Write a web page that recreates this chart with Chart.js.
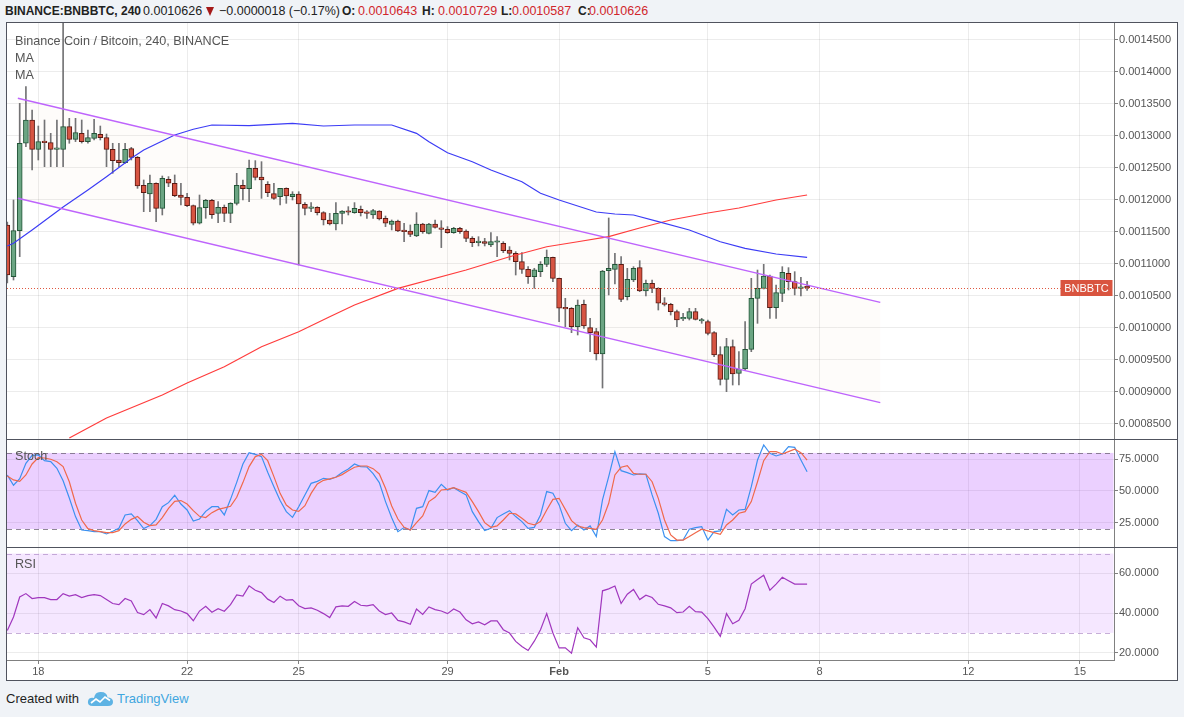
<!DOCTYPE html>
<html><head><meta charset="utf-8">
<script src="https://cdn.jsdelivr.net/npm/chart.js@4.4.1/dist/chart.umd.min.js"></script>
<style>
html,body{margin:0;padding:0;background:#f0f3f7;width:1184px;height:717px;overflow:hidden;font-family:"Liberation Sans",Arial,sans-serif;}
.abs{position:absolute;white-space:nowrap;}
.box{position:absolute;left:7px;width:1170px;background:#fff;}
.hd{position:absolute;top:4px;font-size:12.5px;color:#222;line-height:15px;white-space:nowrap;}
.b{font-weight:bold;font-size:12px;}
.r{color:#d0262c;}
.pl{position:absolute;left:15px;font-size:12.6px;color:#555;line-height:15px;white-space:nowrap;}
.sep{position:absolute;left:7px;width:1170px;height:1px;background:#50535e;z-index:6;}
</style></head><body>
<div class="hd b" style="left:5px">BINANCE:BNBBTC, 240</div>
<div class="hd" style="left:143px">0.0010626</div>
<div class="abs" style="left:206px;top:7px;width:0;height:0;border-left:4.5px solid transparent;border-right:4.5px solid transparent;border-top:9px solid #a51a1a;"></div>
<div class="hd" style="left:219px">−0.0000018 (−0.17%)</div>
<div class="hd b" style="left:342px">O:</div><div class="hd r" style="left:358px">0.0010643</div>
<div class="hd b" style="left:422px">H:</div><div class="hd r" style="left:438px">0.0010729</div>
<div class="hd b" style="left:501px">L:</div><div class="hd r" style="left:512px">0.0010587</div>
<div class="hd b" style="left:578px">C:</div><div class="hd r" style="left:589px">0.0010626</div>

<div class="box" style="top:23px;height:416px;"><canvas id="cMain"></canvas></div>
<div class="box" style="top:440px;height:107px;"><canvas id="cStoch"></canvas></div>
<div class="box" style="top:548px;height:132px;"><canvas id="cRsi"></canvas></div>
<div class="sep" style="top:439px"></div>
<div class="sep" style="top:547px"></div>
<div class="abs" style="left:6px;top:22px;width:1170px;height:657px;border:1px solid #50535e;z-index:7;pointer-events:none;"></div>

<div class="pl" style="top:34px">Binance Coin / Bitcoin, 240, BINANCE</div>
<div class="pl" style="top:51px">MA</div>
<div class="pl" style="top:68px">MA</div>
<div class="pl" style="top:449px;z-index:8">Stoch</div>
<div class="pl" style="top:557px;z-index:8">RSI</div>

<div class="abs" style="left:6px;top:691px;font-size:13px;color:#1e1e1e;line-height:16px;">Created with</div>
<svg class="abs" style="left:87px;top:690px" width="27" height="17" viewBox="0 0 27 17">
<path d="M6 16 Q0 16 1 11 Q2 7 7 8 Q8 1.5 14 2 Q20 2 20.5 7.5 Q26 7.5 26 12 Q26 16 21 16 Z" fill="#5eb3e4"/>
<path d="M4 13 L9 9 L13 12 L18 7 L23 10.5" stroke="#fff" stroke-width="1.7" fill="none"/>
</svg>
<div class="abs" style="left:117px;top:691px;font-size:13px;color:#3fa6df;line-height:16px;">TradingView</div>

<script>
// ---------- DATA ----------
const dayTickIdx = [5, 29, 47, 71, 89, 113, 131, 155, 173];
const dayTickLabels = ['18', '22', '25', '29', 'Feb', '5', '8', '12', '15'];
const priceTicks = [0.00085, 0.0009, 0.00095, 0.001, 0.00105, 0.0011, 0.00115, 0.0012, 0.00125, 0.0013, 0.00135, 0.0014, 0.00145];
const stochTicks = [25, 50, 75];
const rsiTicks = [20, 40, 60];
const stochBands = [20, 80];
const rsiBands = [30, 70];

const opens = [11609e-7,10802e-7,11521e-7,12886e-7,13250e-7,12792e-7,12922e-7,12896e-7,12792e-7,12792e-7,
13146e-7,12948e-7,13042e-7,12912e-7,12964e-7,13026e-7,12974e-7,12792e-7,12625e-7,12583e-7,
12802e-7,12667e-7,12229e-7,12094e-7,12261e-7,11870e-7,12323e-7,12261e-7,12078e-7,12042e-7,
11912e-7,11636e-7,11880e-7,11995e-7,11792e-7,11886e-7,11792e-7,11948e-7,12229e-7,12177e-7,
12495e-7,12360e-7,12245e-7,12099e-7,12052e-7,12182e-7,12052e-7,12094e-7,11933e-7,11870e-7,
11886e-7,11802e-7,11688e-7,11625e-7,11792e-7,11818e-7,11802e-7,11854e-7,11802e-7,11766e-7,
11828e-7,11714e-7,11620e-7,11672e-7,11521e-7,11516e-7,11438e-7,11625e-7,11479e-7,11625e-7,
11558e-7,11542e-7,11490e-7,11558e-7,11516e-7,11401e-7,11334e-7,11349e-7,11297e-7,11340e-7,
11323e-7,11219e-7,11167e-7,11037e-7,10917e-7,10802e-7,10881e-7,10995e-7,11104e-7,10776e-7,
10308e-7,10308e-7,10021e-7,10370e-7,10005e-7,9943e-7,9594e-7,10896e-7,10917e-7,10995e-7,
10490e-7,10750e-7,10943e-7,10578e-7,10698e-7,10620e-7,10386e-7,10370e-7,10255e-7,10141e-7,
10151e-7,10255e-7,10109e-7,10099e-7,9927e-7,9584e-7,9198e-7,9708e-7,9292e-7,9360e-7,
9667e-7,10464e-7,10620e-7,10813e-7,10318e-7,10542e-7,10854e-7,10724e-7,10620e-7,10643e-7];

const highs = [11656e-7,12000e-7,13510e-7,13771e-7,13406e-7,13156e-7,13250e-7,13042e-7,13250e-7,14760e-7,
13276e-7,13276e-7,13250e-7,13094e-7,13260e-7,13156e-7,13031e-7,12886e-7,12886e-7,12886e-7,
12823e-7,12680e-7,12313e-7,12391e-7,12270e-7,12375e-7,12365e-7,12391e-7,12261e-7,12104e-7,
11922e-7,12078e-7,12010e-7,12010e-7,11974e-7,11922e-7,11958e-7,12417e-7,12313e-7,12625e-7,
12615e-7,12599e-7,12287e-7,12261e-7,12182e-7,12190e-7,12130e-7,12130e-7,11959e-7,11959e-7,
11896e-7,11818e-7,11792e-7,11959e-7,11834e-7,11896e-7,11959e-7,11906e-7,11834e-7,11854e-7,
11834e-7,11750e-7,11688e-7,11688e-7,11636e-7,11610e-7,11802e-7,11636e-7,11636e-7,11688e-7,
11677e-7,11584e-7,11573e-7,11573e-7,11532e-7,11427e-7,11427e-7,11401e-7,11490e-7,11427e-7,
11349e-7,11271e-7,11193e-7,11177e-7,10959e-7,10933e-7,11037e-7,11219e-7,11110e-7,10780e-7,
10464e-7,10320e-7,10438e-7,10438e-7,10151e-7,9995e-7,10900e-7,11719e-7,11167e-7,11115e-7,
10932e-7,10958e-7,11052e-7,10750e-7,10750e-7,10630e-7,10474e-7,10386e-7,10281e-7,10229e-7,
10307e-7,10307e-7,10151e-7,10125e-7,9943e-7,9708e-7,9839e-7,9813e-7,9630e-7,10099e-7,
10776e-7,10906e-7,10995e-7,10828e-7,10672e-7,10958e-7,10943e-7,10880e-7,10792e-7,10729e-7];

const lows = [10703e-7,10750e-7,11115e-7,12833e-7,12469e-7,12625e-7,12521e-7,12521e-7,12521e-7,12521e-7,
12886e-7,12912e-7,12890e-7,12886e-7,12938e-7,12938e-7,12521e-7,12417e-7,12521e-7,12573e-7,
12625e-7,12182e-7,11818e-7,11818e-7,11662e-7,11766e-7,12208e-7,12052e-7,11922e-7,11896e-7,
11610e-7,11625e-7,11714e-7,11714e-7,11646e-7,11662e-7,11646e-7,11922e-7,12000e-7,11974e-7,
12313e-7,12026e-7,12052e-7,12010e-7,11922e-7,11948e-7,12000e-7,10985e-7,11766e-7,11818e-7,
11766e-7,11610e-7,11610e-7,11532e-7,11625e-7,11766e-7,11792e-7,11750e-7,11714e-7,11714e-7,
11688e-7,11584e-7,11532e-7,11506e-7,11349e-7,11427e-7,11427e-7,11479e-7,11469e-7,11558e-7,
11256e-7,11479e-7,11479e-7,11479e-7,11349e-7,11271e-7,11282e-7,11282e-7,11271e-7,11115e-7,
11177e-7,11063e-7,10828e-7,10854e-7,10698e-7,10620e-7,10802e-7,10959e-7,10724e-7,10099e-7,
10021e-7,9927e-7,9891e-7,9995e-7,9630e-7,9500e-7,9062e-7,10516e-7,10688e-7,10412e-7,
10438e-7,10724e-7,10568e-7,10500e-7,10552e-7,10281e-7,10344e-7,10203e-7,10021e-7,10115e-7,
10125e-7,10125e-7,10073e-7,9891e-7,9552e-7,9109e-7,9005e-7,9109e-7,9109e-7,9344e-7,
9630e-7,10073e-7,10610e-7,10151e-7,10151e-7,10412e-7,10594e-7,10516e-7,10500e-7,10587e-7];

const closes = [10828e-7,11521e-7,12886e-7,13250e-7,12792e-7,12912e-7,12896e-7,12792e-7,12800e-7,13146e-7,
12948e-7,13052e-7,12912e-7,12974e-7,13042e-7,12974e-7,12792e-7,12615e-7,12583e-7,12792e-7,
12667e-7,12219e-7,12115e-7,12261e-7,11870e-7,12339e-7,12261e-7,12068e-7,12042e-7,11912e-7,
11636e-7,11880e-7,11995e-7,11771e-7,11886e-7,11792e-7,11948e-7,12229e-7,12177e-7,12495e-7,
12354e-7,12313e-7,12115e-7,12026e-7,12182e-7,12063e-7,12094e-7,11938e-7,11870e-7,11886e-7,
11802e-7,11688e-7,11625e-7,11792e-7,11828e-7,11808e-7,11870e-7,11802e-7,11792e-7,11834e-7,
11704e-7,11636e-7,11672e-7,11516e-7,11506e-7,11464e-7,11625e-7,11506e-7,11625e-7,11573e-7,
11542e-7,11490e-7,11558e-7,11506e-7,11401e-7,11334e-7,11355e-7,11323e-7,11349e-7,11349e-7,
11208e-7,11167e-7,11037e-7,10917e-7,10802e-7,10907e-7,10995e-7,11104e-7,10776e-7,10308e-7,
10300e-7,10021e-7,10360e-7,10031e-7,9927e-7,9594e-7,10891e-7,10932e-7,10995e-7,10448e-7,
10760e-7,10932e-7,10578e-7,10698e-7,10620e-7,10386e-7,10370e-7,10255e-7,10125e-7,10167e-7,
10255e-7,10135e-7,10125e-7,9917e-7,9578e-7,9198e-7,9708e-7,9281e-7,9360e-7,9667e-7,
10464e-7,10620e-7,10813e-7,10318e-7,10552e-7,10870e-7,10724e-7,10620e-7,10644e-7,10626e-7];

const maFastIdx = [0,1,4,9,13,16,20,22,27,30,33,39,46,51,56,62,66,68,71,75,78,83,86,89,95,98,101,105,110,115,119,124,129];
const maFast = [11281e-7,11323e-7,11531e-7,11891e-7,12156e-7,12364e-7,12652e-7,12781e-7,13016e-7,13105e-7,13172e-7,13161e-7,13198e-7,13156e-7,13172e-7,13172e-7,13042e-7,12911e-7,12739e-7,12598e-7,12469e-7,12286e-7,12105e-7,12000e-7,11812e-7,11781e-7,11766e-7,11661e-7,11531e-7,11348e-7,11245e-7,11156e-7,11105e-7];
const maSlowIdx = [10,16,25,29,35,41,47,52,56,63,74,81,87,92,97,102,107,113,118,124,129];
const maSlow = [8280e-7,8594e-7,8953e-7,9141e-7,9395e-7,9708e-7,9942e-7,10177e-7,10359e-7,10620e-7,10906e-7,11114e-7,11270e-7,11348e-7,11427e-7,11562e-7,11687e-7,11797e-7,11875e-7,12000e-7,12078e-7];

const channelIdx = [1.7, 140.8];
const channelUpper = [13589e-7, 10400e-7];
const channelLower = [12028e-7, 8834e-7];

const stochK = [62.6,54.5,59.7,71.8,78.1,78.4,73.9,73.1,67.9,58.1,
44.5,29.8,19.2,18.7,17.9,17.9,16.1,18.2,20.5,31.1,
31.9,26.6,20.3,22.7,27.6,37.6,40.8,46.6,39.7,35.0,
26.3,27.9,33.9,37.6,37.6,31.1,43.4,56.8,71.3,80.2,
78.9,77.1,64.7,53.4,42.4,33.7,29.2,37.6,46.8,56.0,
57.6,60.0,59.2,61.0,64.5,67.3,71.3,69.2,68.9,63.7,
56.6,41.6,28.9,17.9,21.1,19.2,36.3,37.6,50.3,48.9,
55.2,50.8,52.6,49.5,46.9,33.7,25.8,18.7,20.5,29.0,
31.9,34.5,29.8,25.8,20.5,21.3,31.1,49.5,48.2,39.0,
24.5,18.7,23.2,19.2,22.4,14.0,42.9,61.3,81.0,66.0,
64.5,62.6,63.4,63.2,46.9,32.4,14.0,10.8,10.8,11.3,
19.8,21.1,21.9,11.3,17.9,18.5,35.5,31.1,35.0,35.5,
53.4,74.4,86.3,79.7,77.6,79.2,85.0,84.4,74.4,65.2];

const stochD = [61.8,58.7,57.6,62.6,71.3,76.3,76.0,75.0,73.1,69.2,
57.3,40.3,27.1,20.3,18.7,17.9,17.1,17.1,18.7,24.0,
27.6,29.8,25.3,22.7,23.2,29.0,36.3,41.8,42.4,39.7,
34.5,30.0,29.0,32.9,35.5,36.6,37.9,45.0,56.6,69.2,
77.1,78.9,73.9,61.3,48.1,38.9,35.0,33.9,38.4,48.1,
55.5,58.4,59.5,60.8,62.9,66.0,68.7,69.7,69.7,67.6,
63.4,52.1,38.2,27.9,21.3,19.2,25.0,30.3,41.6,45.0,
50.8,51.3,52.6,50.8,48.9,41.6,33.7,25.0,21.3,22.4,
27.1,32.4,31.9,28.4,24.5,23.2,25.8,35.0,43.4,44.2,
35.5,26.6,22.4,21.1,20.5,19.8,27.1,40.3,62.6,68.7,
70.0,63.9,63.2,63.2,57.3,44.2,27.1,15.3,11.3,11.3,
14.0,17.1,19.8,18.5,17.1,15.8,23.2,27.1,32.4,33.7,
41.6,57.3,73.9,81.0,81.0,79.2,81.0,82.9,80.2,74.4];

const rsi = [31.2,38.0,48.1,49.8,47.3,47.8,47.8,46.8,46.8,49.8,
48.5,49.3,47.8,48.8,49.3,48.8,46.8,44.8,44.2,47.3,
46.1,40.2,39.2,41.7,37.5,44.8,43.6,41.7,41.0,39.7,
36.1,41.0,43.4,40.4,42.2,40.9,44.2,49.1,48.5,53.7,
51.5,50.3,47.0,45.3,48.5,46.5,46.8,43.7,42.2,42.6,
41.4,39.7,37.7,43.1,43.6,43.4,45.8,43.9,43.6,44.2,
41.0,39.2,40.0,36.3,35.5,34.3,42.0,39.3,43.1,41.7,
41.0,39.7,42.0,40.5,36.6,34.6,35.5,34.1,36.0,36.0,
31.6,29.9,25.7,23.1,21.1,25.8,31.6,39.7,29.9,22.4,
22.4,19.7,32.6,27.5,26.5,22.8,51.2,52.2,53.6,44.8,
49.5,51.9,46.8,49.0,47.8,44.4,43.6,42.6,40.2,40.5,
43.4,40.7,40.5,37.2,32.9,28.2,39.7,34.6,36.3,42.2,
54.6,56.9,59.1,51.5,54.6,58.0,56.3,54.6,54.6,54.6];

// ---------- STYLE / AXIS SETTINGS ----------
const xRange = [-0.05, 178.5];
const priceRange = [0.00082656, 0.00147656];
const stochRange = [5.8, 90.2];
const rsiRange = [16.3, 72.8];
const FONT = '"Liberation Sans", Arial, sans-serif';
const GRID = 'rgba(0,0,0,0.075)';
const AXIS = '#808080';
const TXT = '#555';

Chart.defaults.animation = false;
Chart.defaults.font.family = FONT;
Chart.defaults.font.size = 11;
Chart.defaults.color = TXT;

const idx = opens.map((_, i) => i);
const up = idx.map(i => closes[i] >= opens[i]);

function xScale(show) {
  return {
    type: 'linear', min: xRange[0], max: xRange[1], offset: false,
    grid: { color: GRID, offset: false, drawTicks: show, tickLength: 4, tickColor: AXIS },
    border: { display: show, color: AXIS },
    ticks: {
      display: show, autoSkip: false, maxRotation: 0, padding: 1, color: TXT,
      font: (c) => ({ family: FONT, size: 11, weight: (c.index === 4) ? 'bold' : 'normal' }),
      callback: (v, i) => dayTickLabels[i]
    },
    afterBuildTicks: (s) => { s.ticks = dayTickIdx.map(v => ({ value: v })); },
    afterFit: (s) => { s.height = show ? 20 : 0; s.paddingLeft = 0; s.paddingRight = 0; }
  };
}
function yScale(range, ticks, digits) {
  return {
    type: 'linear', position: 'right', min: range[0], max: range[1],
    grid: { color: GRID, drawTicks: true, tickLength: 4, tickColor: AXIS },
    border: { display: true, color: AXIS },
    ticks: { color: TXT, padding: 1, font: { family: FONT, size: 11 }, callback: (v) => Number(v).toFixed(digits) },
    afterBuildTicks: (s) => { s.ticks = ticks.map(v => ({ value: v })); },
    afterFit: (s) => { s.width = 63; s.paddingTop = 0; s.paddingBottom = 0; }
  };
}
const baseOpts = {
  responsive: true, maintainAspectRatio: false, animation: false, events: [],
  layout: { padding: 0 },
  plugins: { legend: { display: false }, tooltip: { enabled: false } }
};

function bandPlugin(bands, fill, dash) {
  return {
    id: 'bands',
    beforeDatasetsDraw(chart) {
      const { ctx, chartArea: a, scales: { y } } = chart;
      const y1 = y.getPixelForValue(bands[1]), y2 = y.getPixelForValue(bands[0]);
      ctx.save();
      ctx.fillStyle = fill;
      ctx.fillRect(a.left, y1, a.right - a.left - 0.5, y2 - y1);
      ctx.strokeStyle = dash; ctx.lineWidth = 1; ctx.setLineDash([5, 4]);
      [y1, y2].forEach(yy => {
        const p = Math.round(yy) + 0.5;
        ctx.beginPath(); ctx.moveTo(a.left, p); ctx.lineTo(a.right, p); ctx.stroke();
      });
      ctx.restore();
    }
  };
}

const mainPlugin = {
  id: 'mainDeco',
  beforeDatasetsDraw(chart) {
    const { ctx, chartArea: a, scales: { x, y } } = chart;
    ctx.save();
    ctx.beginPath(); ctx.rect(a.left, a.top, a.right - a.left, a.bottom - a.top); ctx.clip();
    ctx.fillStyle = 'rgba(235,200,165,0.05)';
    ctx.beginPath();
    ctx.moveTo(x.getPixelForValue(channelIdx[0]), y.getPixelForValue(channelUpper[0]));
    ctx.lineTo(x.getPixelForValue(channelIdx[1]), y.getPixelForValue(channelUpper[1]));
    ctx.lineTo(x.getPixelForValue(channelIdx[1]), y.getPixelForValue(channelLower[1]));
    ctx.lineTo(x.getPixelForValue(channelIdx[0]), y.getPixelForValue(channelLower[0]));
    ctx.closePath(); ctx.fill();
    ctx.restore();
  },
  afterDatasetsDraw(chart) {
    const { ctx, chartArea: a, scales: { y } } = chart;
    const py = Math.round(y.getPixelForValue(closes[closes.length - 1]));
    ctx.save();
    ctx.strokeStyle = '#e0573f'; ctx.lineWidth = 1; ctx.setLineDash([1, 2]);
    ctx.beginPath(); ctx.moveTo(a.left, py + 0.5); ctx.lineTo(a.right, py + 0.5); ctx.stroke();
    ctx.setLineDash([]);
    ctx.fillStyle = '#d9543f';
    ctx.fillRect(a.right - 53.5, py - 8, 52, 16);
    ctx.fillStyle = '#fff'; ctx.font = '11px ' + FONT;
    ctx.textAlign = 'center'; ctx.textBaseline = 'middle';
    ctx.fillText('BNBBTC', a.right - 27.5, py + 0.5);
    ctx.restore();
  }
};

new Chart(document.getElementById('cMain'), {
  type: 'bar',
  data: {
    datasets: [
      { type: 'line', label: 'MA fast', data: maFastIdx.map((x, k) => ({ x, y: maFast[k] })),
        borderColor: 'rgb(60,60,245)', borderWidth: 1.2, pointRadius: 0, order: 1 },
      { type: 'line', label: 'MA slow', data: maSlowIdx.map((x, k) => ({ x, y: maSlow[k] })),
        borderColor: 'rgb(255,60,60)', borderWidth: 1.2, pointRadius: 0, order: 1 },
      { type: 'line', label: 'Channel upper', data: channelIdx.map((x, k) => ({ x, y: channelUpper[k] })),
        borderColor: 'rgb(190,100,252)', borderWidth: 1.4, pointRadius: 0, order: 0 },
      { type: 'line', label: 'Channel lower', data: channelIdx.map((x, k) => ({ x, y: channelLower[k] })),
        borderColor: 'rgb(190,100,252)', borderWidth: 1.4, pointRadius: 0, order: 0 },
      { label: 'Bodies', data: idx.map(i => ({ x: i, y: [Math.min(opens[i], closes[i]), Math.max(opens[i], closes[i])] })),
        backgroundColor: idx.map(i => up[i] ? '#6ba583' : '#d75442'),
        borderColor: idx.map(i => up[i] ? '#225437' : '#5b1a13'),
        borderWidth: 1, borderSkipped: false, barThickness: 5, minBarLength: 1.5, grouped: false, order: 2 },
      { label: 'Wicks', data: idx.map(i => ({ x: i, y: [lows[i], highs[i]] })),
        backgroundColor: '#737375', borderWidth: 0, barThickness: 1, grouped: false, order: 3 }
    ]
  },
  options: Object.assign({}, baseOpts, {
    scales: { x: xScale(false), y: yScale(priceRange, priceTicks, 7) }
  }),
  plugins: [mainPlugin]
});

new Chart(document.getElementById('cStoch'), {
  type: 'line',
  data: {
    datasets: [
      { label: '%D', data: idx.map(i => ({ x: i, y: stochD[i] })), borderColor: 'rgb(240,105,75)', borderWidth: 1.2, pointRadius: 0 },
      { label: '%K', data: idx.map(i => ({ x: i, y: stochK[i] })), borderColor: 'rgb(60,145,240)', borderWidth: 1.2, pointRadius: 0 }
    ]
  },
  options: Object.assign({}, baseOpts, {
    scales: { x: xScale(false), y: yScale(stochRange, stochTicks, 4) }
  }),
  plugins: [bandPlugin(stochBands, 'rgba(153,21,255,0.2)', 'rgba(105,95,115,0.75)')]
});

new Chart(document.getElementById('cRsi'), {
  type: 'line',
  data: {
    datasets: [
      { label: 'RSI', data: idx.map(i => ({ x: i, y: rsi[i] })), borderColor: 'rgb(160,55,190)', borderWidth: 1.2, pointRadius: 0 }
    ]
  },
  options: Object.assign({}, baseOpts, {
    scales: { x: xScale(true), y: yScale(rsiRange, rsiTicks, 4) }
  }),
  plugins: [bandPlugin(rsiBands, 'rgba(153,21,255,0.1)', 'rgba(175,140,200,0.7)')]
});
</script>
</body></html>
